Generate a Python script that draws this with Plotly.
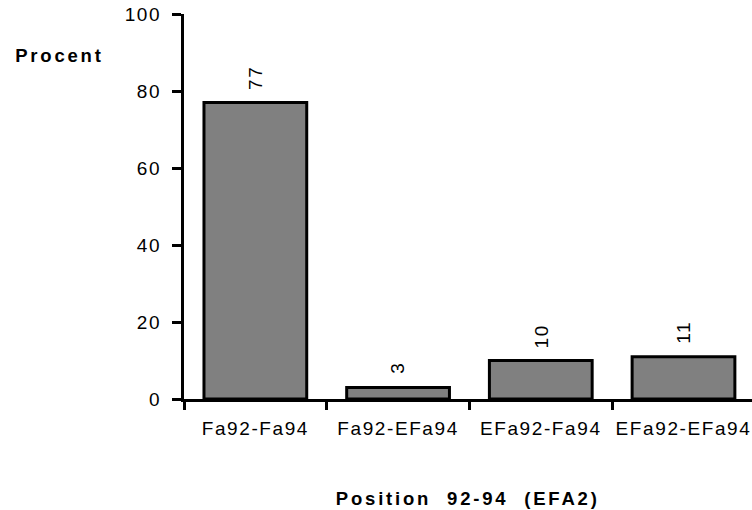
import plotly.graph_objects as go

categories = ["Fa92-Fa94", "Fa92-EFa94", "EFa92-Fa94", "EFa92-EFa94"]
values = [77, 3, 10, 11]
y_ticks = [0, 20, 40, 60, 80, 100]

W, H = 752, 510
L, R, T, B = 184, 0, 14, 111
plot_h = H - T - B
plot_w = W - L - R

FONT = "Liberation Sans, Arial, sans-serif"

fig = go.Figure()
fig.add_trace(go.Bar(
    x=categories, y=values, width=0.72,
    marker=dict(color="#808080", line=dict(color="black", width=3)),
    hoverinfo="skip",
))

for c, v in zip(categories, values):
    fig.add_annotation(
        x=c, y=v, text=str(v), textangle=-90, showarrow=False,
        yanchor="bottom", xanchor="center", yshift=12,
        font=dict(family=FONT, size=19, color="black"),
    )

fig.add_annotation(
    xref="paper", yref="paper",
    x=(59.5 - L) / plot_w, y=(H - B - 55) / plot_h,
    text="<b>Procent</b>", showarrow=False, xanchor="center", yanchor="middle",
    font=dict(family=FONT, size=18.5, color="black"),
)
fig.add_annotation(
    xref="paper", yref="paper",
    x=(467.5 - L) / plot_w, y=-(498 - (H - B)) / plot_h,
    text="<b>Position\u00a0\u00a092-94\u00a0\u00a0(EFA2)</b>", showarrow=False,
    xanchor="center", yanchor="middle",
    font=dict(family=FONT, size=18.5, color="black"),
)

fig.update_layout(
    width=W, height=H,
    margin=dict(l=L, r=R, t=T, b=B, pad=0),
    plot_bgcolor="white", paper_bgcolor="white",
    showlegend=False,
    font=dict(family=FONT, size=19, color="black"),
    xaxis=dict(
        range=[-0.5, 3.48], showline=True, linecolor="black", linewidth=3,
        ticks="outside", tickson="boundaries", ticklen=8, tickwidth=3, tickcolor="black",
        showgrid=False, zeroline=False, fixedrange=True, ticklabelstandoff=10,
        tickfont=dict(family=FONT, size=19, color="black"),
    ),
    yaxis=dict(
        range=[0, 100], tickvals=y_ticks, showline=True, linecolor="black", linewidth=3,
        ticks="outside", ticklen=9, tickwidth=3, tickcolor="black",
        showgrid=False, zeroline=False, fixedrange=True, ticklabelstandoff=7,
        tickfont=dict(family=FONT, size=19, color="black"),
    ),
)

post = """
var st = document.createElement('style');
st.textContent = 'html,body{margin:0;padding:0;overflow:hidden;}' +
  '.xtick text, .ytick text {letter-spacing:1.6px;}';
document.head.appendChild(st);
document.querySelectorAll('.annotation-text').forEach(function(t){
  var s = t.textContent;
  if (s.indexOf('Procent') >= 0 || s.indexOf('Position') >= 0) {
    t.style.letterSpacing = '2.8px';
  } else {
    t.style.letterSpacing = '1.6px';
  }
});
"""
fig.write_html("out.html", post_script=post, config={"displayModeBar": False, "staticPlot": True})
